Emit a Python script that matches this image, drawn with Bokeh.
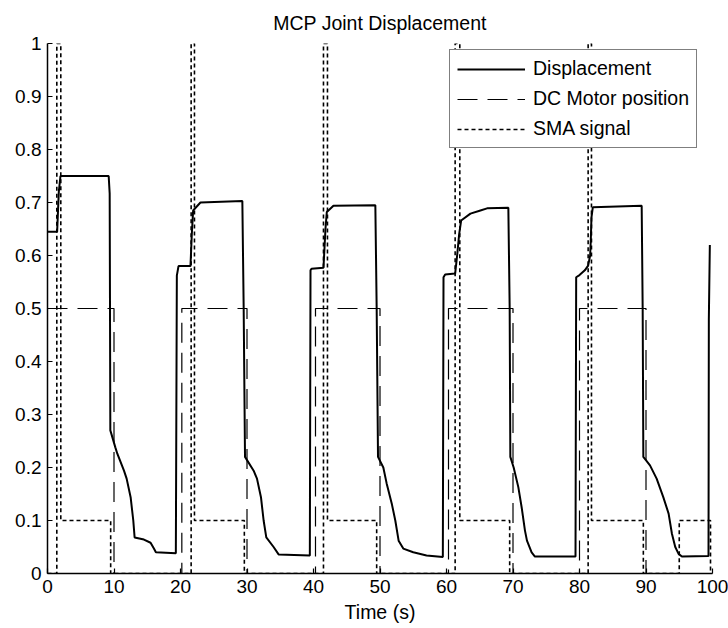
from bokeh.plotting import figure
from bokeh.models import (Range1d, FixedTicker, CustomJSTickFormatter, Legend,
                          LegendItem)
from bokeh.embed import file_html
from bokeh.resources import INLINE

FONT = "Liberation Sans"

# ---------------- data ----------------
title_text = "MCP Joint Displacement"
x_label = "Time (s)"
series_names = ["Displacement", "DC Motor position", "SMA signal"]

x_ticks = [0, 10, 20, 30, 40, 50, 60, 70, 80, 90, 100]
y_ticks = [0, 0.1, 0.2, 0.3, 0.4, 0.5, 0.6, 0.7, 0.8, 0.9, 1]
y_tick_labels = ["0", "0.1", "0.2", "0.3", "0.4", "0.5", "0.6", "0.7", "0.8", "0.9", "1"]

disp_t = [0.0, 1.45, 1.7, 1.95, 9.2, 9.35, 9.45, 10.2, 10.5, 11.5, 11.9, 12.5, 12.9, 13.1, 14.5, 15.5, 16.0, 16.3, 19.3,
          19.45, 19.7, 21.5, 21.7, 21.9, 23.0, 29.3, 29.5, 29.7, 31.0, 31.5, 32.1, 32.5, 32.9, 34.0, 34.75, 39.45,
          39.55, 39.7, 41.5, 41.8, 42.0, 43.0, 49.3, 49.5, 49.7, 50.5, 51.0, 51.8, 52.3, 52.8, 53.5, 55.0, 57.0, 59.45,
          59.55, 59.8, 61.3, 61.6, 61.9, 62.2, 63.6, 65.1, 66.1, 69.3, 69.5, 69.6, 70.1, 70.8, 71.3, 71.8, 72.1, 72.8, 73.3, 79.4,
          79.5, 80.0, 80.8, 81.3, 81.6, 81.7, 81.8, 82.0, 89.35, 89.5, 89.6, 90.6, 91.6, 92.6, 93.4, 93.9, 94.4, 94.9, 95.4, 99.4,
          99.45, 99.6]
disp_v = [0.645, 0.645, 0.72, 0.75, 0.75, 0.717, 0.27, 0.238, 0.226, 0.194, 0.179, 0.144, 0.10, 0.068, 0.064, 0.058, 0.047, 0.04, 0.038,
          0.562, 0.58, 0.58, 0.64, 0.685, 0.70, 0.703, 0.50, 0.22, 0.194, 0.179, 0.144, 0.10, 0.068, 0.05, 0.036, 0.034,
          0.572, 0.575, 0.577, 0.65, 0.682, 0.694, 0.695, 0.50, 0.22, 0.20, 0.17, 0.13, 0.10, 0.062, 0.047, 0.04, 0.034, 0.031,
          0.559, 0.564, 0.566, 0.60, 0.64, 0.666, 0.679, 0.685, 0.689, 0.69, 0.50, 0.22, 0.20, 0.163, 0.125, 0.081, 0.062, 0.04, 0.032, 0.032,
          0.559, 0.563, 0.572, 0.581, 0.60, 0.63, 0.672, 0.691, 0.694, 0.50, 0.22, 0.204, 0.179, 0.144, 0.113, 0.075, 0.05, 0.037, 0.032, 0.033,
          0.48, 0.62]

motor_t = [0, 10.0, 10.0, 20.2, 20.2, 30.0, 30.0, 40.3, 40.3, 50.0, 50.0, 60.3, 60.3, 70.0, 70.0, 80.0, 80.0, 90.0, 90.0, 100]
motor_v = [0.5, 0.5, 0, 0, 0.5, 0.5, 0, 0, 0.5, 0.5, 0, 0, 0.5, 0.5, 0, 0, 0.5, 0.5, 0, 0]

sma_t = [0, 1.4, 1.4, 2.0, 2.0, 9.5, 9.5,
         21.6, 21.6, 22.1, 22.1, 29.6, 29.6,
         41.5, 41.5, 42.1, 42.1, 49.5, 49.5,
         61.3, 61.3, 62.0, 62.0, 69.5, 69.5,
         81.3, 81.3, 81.8, 81.8, 89.6, 89.6,
         95.0, 95.0, 99.7, 99.7]
sma_v = [0, 0, 1, 1, 0.1, 0.1, 0,
         0, 1, 1, 0.1, 0.1, 0,
         0, 1, 1, 0.1, 0.1, 0,
         0, 1, 1, 0.1, 0.1, 0,
         0, 1, 1, 0.1, 0.1, 0,
         0, 0.1, 0.1, 0]

# ---------------- figure ----------------
p = figure(width=728, height=628, output_backend="svg", toolbar_location=None,
           x_range=Range1d(0, 100), y_range=Range1d(0, 1),
           min_border_left=47, min_border_right=16, min_border_top=43, min_border_bottom=55,
           background_fill_color="white", border_fill_color="white")

p.title.text = title_text
p.title.align = "center"
p.title.text_font = FONT
p.title.text_font_size = "19.5px"
p.title.text_font_style = "normal"
p.title.text_color = "black"
p.title.standoff = 19

p.grid.visible = False
p.outline_line_color = None

p.xaxis.ticker = FixedTicker(ticks=x_ticks)
p.yaxis.ticker = FixedTicker(ticks=y_ticks)
p.yaxis.formatter = CustomJSTickFormatter(
    args=dict(yt=y_ticks, yl=y_tick_labels),
    code="const i = yt.findIndex(t => Math.abs(t - tick) < 1e-9); return i >= 0 ? yl[i] : '';")

for ax in (p.xaxis[0], p.yaxis[0]):
    ax.major_tick_in = 5
    ax.major_tick_out = 0
    ax.minor_tick_in = 0
    ax.minor_tick_out = 0
    ax.axis_line_color = "black"
    ax.axis_line_width = 1.5
    ax.major_tick_line_color = "black"
    ax.major_tick_line_width = 1.2
    ax.major_label_text_font = FONT
    ax.major_label_text_font_size = "19px"
    ax.major_label_text_color = "black"

p.xaxis.major_label_standoff = 6
p.yaxis.major_label_standoff = 6
p.xaxis.axis_label = x_label
p.xaxis.axis_label_text_font = FONT
p.xaxis.axis_label_text_font_size = "19.5px"
p.xaxis.axis_label_text_font_style = "normal"
p.xaxis.axis_label_text_color = "black"
p.xaxis.axis_label_standoff = 5

r_disp = p.line(disp_t, disp_v, line_color="black", line_width=2.0)
r_motor = p.line(motor_t, motor_v, line_color="black", line_width=1.2, line_dash="20 10")
r_sma = p.line(sma_t, sma_v, line_color="black", line_width=1.6, line_dash="4 3")

legend = Legend(items=[LegendItem(label=series_names[0], renderers=[r_disp]),
                       LegendItem(label=series_names[1], renderers=[r_motor]),
                       LegendItem(label=series_names[2], renderers=[r_sma])],
                location=(402, 425))
legend.label_text_font = FONT
legend.label_text_font_size = "19.5px"
legend.label_text_color = "black"
legend.glyph_width = 68
legend.glyph_height = 22
legend.label_height = 22
legend.label_standoff = 8
legend.spacing = 7
legend.padding = 7
legend.border_line_color = "black"
legend.border_line_width = 1.5
legend.background_fill_color = "white"
legend.background_fill_alpha = 1.0
p.add_layout(legend, "center")

open("out.html", "w").write(file_html(p, INLINE))
